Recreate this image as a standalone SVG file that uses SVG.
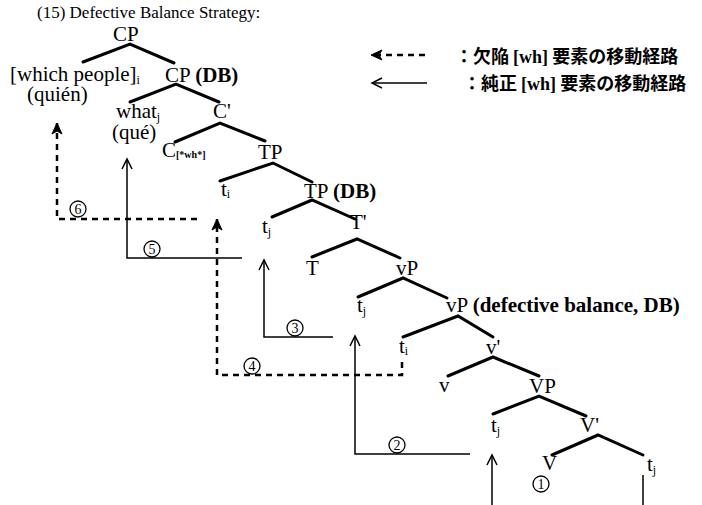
<svg xmlns="http://www.w3.org/2000/svg" width="702" height="505" viewBox="0 0 702 505">
  <style>
    .lbl { font-family: "Liberation Serif", "Times New Roman", serif; font-size: 21px; fill: #000; }
    .title { font-family: "Liberation Serif", "Times New Roman", serif; font-size: 17px; fill: #000; }
    .b { font-weight: bold; }
    .sub { font-size: 12px; }
    .num { font-family: "Liberation Serif", "Times New Roman", serif; font-size: 14px; fill: #000; text-anchor: middle; }
    .ring { fill: #fff; stroke: #000; stroke-width: 1.3; }
    .jp { font-family: "Noto Sans CJK JP", sans-serif; font-size: 18px; font-weight: bold; fill: #000; }
    .jpb { font-family: "Liberation Serif", serif; font-weight: bold; }
    .branch { stroke: #000; stroke-width: 3; fill: none; stroke-linecap: round; }
    .solid { stroke: #000; stroke-width: 1.5; fill: none; marker-end: url(#open); }
    .dash { stroke: #000; stroke-width: 2.5; fill: none; stroke-dasharray: 6 5; marker-end: url(#bold); }
  </style>
  <defs>
    <marker id="open" markerUnits="userSpaceOnUse" markerWidth="14" markerHeight="14" refX="12" refY="6" orient="auto" overflow="visible">
      <path d="M2,1 L12,6 L2,11" fill="none" stroke="#000" stroke-width="1.5"/>
    </marker>
    <marker id="bold" markerUnits="userSpaceOnUse" markerWidth="14" markerHeight="14" refX="11" refY="5" orient="auto" overflow="visible">
      <path d="M0,0 L11,5 L0,10 L3,5 Z" fill="#000" stroke="#000" stroke-width="1"/>
    </marker>
  </defs>

  <text class="title" x="37" y="18">(15) Defective Balance Strategy:</text>

  <!-- legend -->
  <g id="legend">
    <line x1="425" y1="55" x2="371" y2="55" class="dash"/>
    <text class="jp" x="455" y="63">：欠陥 <tspan class="jpb">[wh]</tspan> 要素の移動経路</text>
    <line x1="427" y1="83" x2="372" y2="83" class="solid"/>
    <text class="jp" x="463" y="90">：純正 <tspan class="jpb">[wh]</tspan> 要素の移動経路</text>
  </g>

  <!-- tree nodes -->
  <g id="n-cp"><text class="lbl" x="113" y="41">CP</text></g>
  <g id="n-which"><text class="lbl" x="10" y="81">[which people]<tspan class="sub" dy="3">i</tspan></text>
    <text class="lbl" x="27" y="101">(quién)</text></g>
  <g id="n-cpdb"><text class="lbl" x="165" y="82">CP <tspan class="b">(DB)</tspan></text></g>
  <g id="n-what"><text class="lbl" x="116" y="118">what<tspan class="sub" dy="3">j</tspan></text>
    <text class="lbl" x="112" y="139">(qué)</text></g>
  <g id="n-cbar"><text class="lbl" x="213" y="118">C'</text></g>
  <g id="n-c"><text class="lbl" x="162" y="157">C<tspan class="b" font-size="10" dy="1">[*wh*]</tspan></text></g>
  <g id="n-tp"><text class="lbl" x="258" y="159">TP</text></g>
  <g id="n-ti1"><text class="lbl" x="221" y="196">t<tspan class="sub" dy="2">i</tspan></text></g>
  <g id="n-tpdb"><text class="lbl" x="304" y="198">TP <tspan class="b">(DB)</tspan></text></g>
  <g id="n-tj1"><text class="lbl" x="262" y="233">t<tspan class="sub" dy="3">j</tspan></text></g>
  <g id="n-tbar"><text class="lbl" x="350" y="229">T'</text></g>
  <g id="n-t"><text class="lbl" x="306" y="275">T</text></g>
  <g id="n-vp"><text class="lbl" x="396" y="275">vP</text></g>
  <g id="n-tj2"><text class="lbl" x="357" y="312">t<tspan class="sub" dy="3">j</tspan></text></g>
  <g id="n-vpdb"><text class="lbl" x="446" y="312">vP <tspan class="b">(defective balance, DB)</tspan></text></g>
  <g id="n-ti2"><text class="lbl" x="399" y="353">t<tspan class="sub" dy="2">i</tspan></text></g>
  <g id="n-vbar"><text class="lbl" x="486" y="354">v'</text></g>
  <g id="n-v"><text class="lbl" x="439" y="392">v</text></g>
  <g id="n-VP"><text class="lbl" x="529" y="393">VP</text></g>
  <g id="n-tj3"><text class="lbl" x="491" y="432">t<tspan class="sub" dy="3">j</tspan></text></g>
  <g id="n-Vbar"><text class="lbl" x="580" y="432">V'</text></g>
  <g id="n-V"><text class="lbl" x="542" y="470">V</text></g>
  <g id="n-tj4"><text class="lbl" x="647" y="471">t<tspan class="sub" dy="3">j</tspan></text></g>

  <!-- branches -->
  <g id="branches" class="branch">
    <path d="M83,62 L130,44 L174,63"/>
    <path d="M130,102 L176,84 L219,102"/>
    <path d="M175,142 L220,123 L265,141"/>
    <path d="M220,181 L273,163 L312,182"/>
    <path d="M272,217 L312,200 L355,219"/>
    <path d="M312,257 L357,239 L400,258"/>
    <path d="M358,297 L403,278 L447,298"/>
    <path d="M403,337 L458,316 L493,337"/>
    <path d="M448,376 L493,357 L539,376"/>
    <path d="M493,414 L539,396 L586,416"/>
    <path d="M552,455 L598,435 L643,455"/>
  </g>

  <!-- movement paths -->
  <g id="connectors">
    <line x1="643" y1="475" x2="643" y2="505" stroke="#000" stroke-width="1.5"/>
    <line x1="492" y1="505" x2="492" y2="455" class="solid"/>
    <polyline points="470,454 355,454 355,336" class="solid"/>
    <polyline points="333,337 264,337 264,260" class="solid"/>
    <polyline points="402,362 402,375 217,375 217,219" class="dash"/>
    <polyline points="242,258 127,258 127,159" class="solid"/>
    <polyline points="197,219 57,219 57,123" class="dash"/>
  </g>

  <!-- step numbers -->
  <g id="steps">
    <g id="s1"><circle class="ring" cx="541" cy="484" r="8"/><text class="num" x="541" y="489">1</text></g>
    <g id="s2"><circle class="ring" cx="397" cy="445" r="8"/><text class="num" x="397" y="450">2</text></g>
    <g id="s3"><circle class="ring" cx="295" cy="328" r="8"/><text class="num" x="295" y="333">3</text></g>
    <g id="s4"><circle class="ring" cx="252" cy="366" r="8"/><text class="num" x="252" y="371">4</text></g>
    <g id="s5"><circle class="ring" cx="152" cy="249" r="8"/><text class="num" x="152" y="254">5</text></g>
    <g id="s6"><circle class="ring" cx="78" cy="209" r="8"/><text class="num" x="78" y="214">6</text></g>
  </g>
</svg>
